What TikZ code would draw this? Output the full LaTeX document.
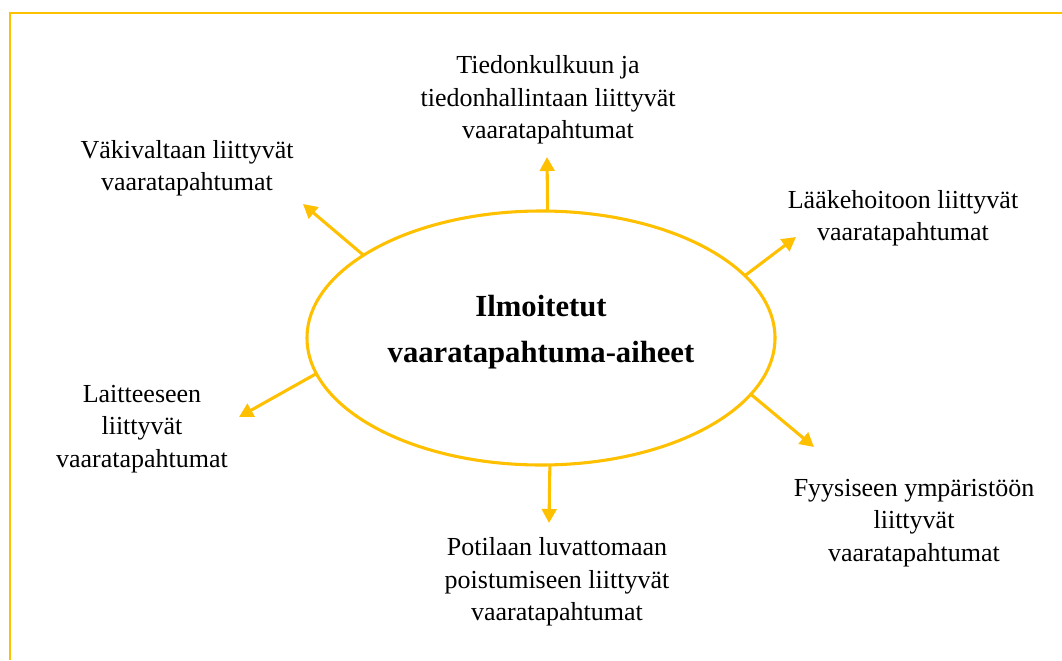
\documentclass[tikz,border=0pt]{standalone}
\usepackage{fontspec}
\setmainfont{Liberation Serif}
\usetikzlibrary{arrows.meta,shapes.geometric}
\definecolor{gold}{HTML}{FFC000}
\begin{document}
\begin{tikzpicture}[x=0.75pt,y=-0.75pt,
  lbl/.style={align=center,font=\fontsize{19.5}{24.2}\selectfont,inner sep=0pt},
  ttl/.style={align=center,font=\fontsize{23}{34}\selectfont\bfseries,inner sep=0pt},
  arr/.style={draw=gold,line width=2.3pt,-{Triangle[length=10.5pt,width=11pt]}},
]
\useasboundingbox[fill=white] (0,0) rectangle (1062,660);
\draw[gold,line width=1.7pt] (10,660) -- (10,13) -- (1062,13);
\node[ellipse,draw=gold,line width=2.3pt,minimum width=351pt,minimum height=190.5pt,inner sep=0pt,outer sep=0pt] (c) at (541,338) {};
\node[ttl] (title) at (541,332) {Ilmoitetut\\vaaratapahtuma-aiheet};

\node[lbl] (t) at (548,100) {Tiedonkulkuun ja\\tiedonhallintaan liittyvät\\vaaratapahtumat};
\node[lbl] (ul) at (187,168) {Väkivaltaan liittyvät\\vaaratapahtumat};
\node[lbl] (ur) at (903,218) {Lääkehoitoon liittyvät\\vaaratapahtumat};
\node[lbl] (l) at (142,429) {Laitteeseen\\liittyvät\\vaaratapahtumat};
\node[lbl] (b) at (557,582) {Potilaan luvattomaan\\poistumiseen liittyvät\\vaaratapahtumat};
\node[lbl] (r) at (914,523) {Fyysiseen ympäristöön\\liittyvät\\vaaratapahtumat};

\coordinate (et) at (547,157);
\coordinate (eul) at (303,204);
\coordinate (eur) at (796,237);
\coordinate (elr) at (814,447);
\coordinate (ell) at (239,417);
\coordinate (eb) at (549,523);

\draw[arr] (c.87.3) -- (et);
\draw[arr] (c.155.7) -- (eul);
\draw[arr] (c.17.9) -- (eur);
\draw[arr] (c.-15.8) -- (elr);
\draw[arr] (c.189.1) -- (ell);
\draw[arr] (c.-86.4) -- (eb);
\end{tikzpicture}
\end{document}
